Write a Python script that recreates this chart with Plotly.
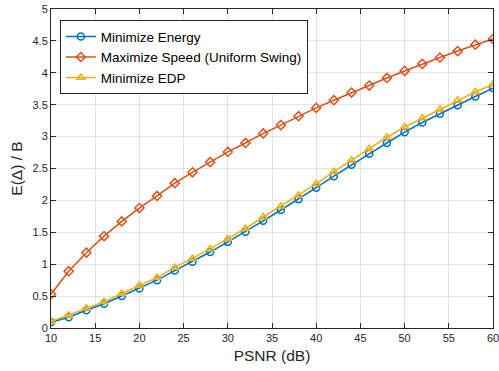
import plotly.graph_objects as go

psnr = [10, 12, 14, 16, 18, 20, 22, 24, 26, 28, 30, 32, 34, 36, 38, 40, 42, 44, 46, 48, 50, 52, 54, 56, 58, 60]
min_energy = [0.09, 0.17, 0.28, 0.38, 0.50, 0.62, 0.75, 0.90, 1.04, 1.19, 1.35, 1.51, 1.68, 1.85, 2.02, 2.20,
              2.38, 2.56, 2.73, 2.90, 3.07, 3.22, 3.36, 3.49, 3.63, 3.76]
max_speed = [0.53, 0.89, 1.18, 1.44, 1.67, 1.88, 2.07, 2.27, 2.44, 2.60, 2.76, 2.90, 3.05, 3.18, 3.32, 3.45,
             3.57, 3.69, 3.80, 3.92, 4.03, 4.14, 4.24, 4.34, 4.44, 4.53]
min_edp = [0.10, 0.20, 0.31, 0.41, 0.54, 0.67, 0.79, 0.95, 1.09, 1.24, 1.40, 1.56, 1.74, 1.91, 2.08, 2.26,
           2.45, 2.63, 2.81, 2.99, 3.15, 3.29, 3.43, 3.57, 3.70, 3.82]

names = ["Minimize Energy", "Maximize Speed (Uniform Swing)", "Minimize EDP"]
colors = ["#0072BD", "#D95319", "#EDB120"]
symbols = ["circle-open", "diamond-open", "triangle-up-open"]
series = [min_energy, max_speed, min_edp]

fig = go.Figure()
for name, col, sym, ys in zip(names, colors, symbols, series):
    fig.add_trace(go.Scatter(
        x=psnr, y=ys, name=name, mode="lines+markers",
        line=dict(color=col, width=1.6),
        marker=dict(symbol=sym, size=7, color=col, line=dict(color=col, width=1.5)),
    ))

axis_common = dict(
    showgrid=True, gridcolor="#e3e3e3", gridwidth=1,
    showline=True, linecolor="#262626", linewidth=1, mirror="ticks",
    ticks="inside", ticklen=5, tickcolor="#262626",
    tickfont=dict(family="Liberation Sans, Arial", size=11, color="#262626"),
    zeroline=False, automargin=False, ticklabeloverflow="allow",
)

fig.update_layout(
    width=499, height=371,
    margin=dict(l=51, r=6, t=9, b=43),
    plot_bgcolor="white", paper_bgcolor="white",
    font=dict(family="Liberation Sans, Arial", color="#262626"),
    xaxis=dict(range=[10, 60], dtick=5, tick0=10,
               title=dict(text="PSNR (dB)", font=dict(size=15.5), standoff=6), **axis_common),
    yaxis=dict(range=[0, 5], dtick=0.5, tick0=0,
               title=dict(text="E(Δ) / B", font=dict(size=15.5), standoff=6), **axis_common),
    legend=dict(x=0.02, y=0.965, xanchor="left", yanchor="top",
                bgcolor="white", bordercolor="#262626", borderwidth=1,
                font=dict(size=13.5, color="#000000"), tracegroupgap=0,
                itemwidth=30),
    showlegend=True,
)

fig.write_html("out.html")
